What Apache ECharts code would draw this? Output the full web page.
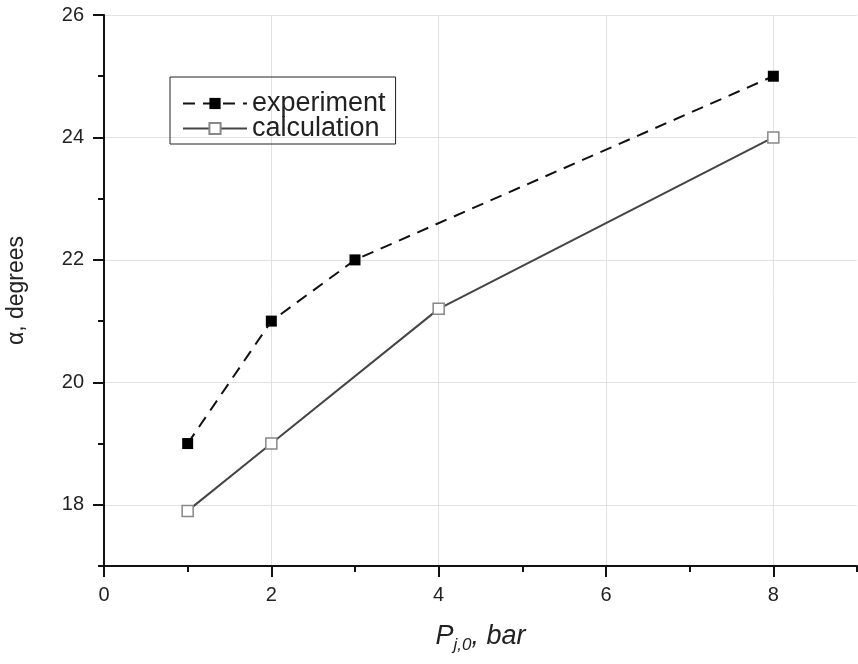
<!DOCTYPE html>
<html>
<head>
<meta charset="utf-8">
<script src="https://cdn.jsdelivr.net/npm/echarts@6/dist/echarts.min.js"></script>
<style>
  html, body { margin: 0; padding: 0; background: #fff; }
  #main { width: 858px; height: 664px; }
</style>
</head>
<body>
<div id="main"></div>
<script>
// data
var expX = [1, 2, 3, 8];
var expY = [19, 21, 22, 25];
var calcX = [1, 2, 4, 8];
var calcY = [17.9, 19, 21.2, 24];
var xMajor = [0, 2, 4, 6, 8];
var xMinor = [1, 3, 5, 7, 9];
var yMajor = [18, 20, 22, 24, 26];
var yMinor = [17, 19, 21, 23, 25];

function pairs(xs, ys) {
    let out = [];
    for (let i = 0; i < xs.length; i++) {
        out.push([xs[i], ys[i]]);
    }
    return out;
}

var font = 'Liberation Sans, Arial, sans-serif';
var axisLine = { show: true, lineStyle: { color: '#111', width: 2 } };

var myChart = echarts.init(document.getElementById('main'));
var option = {
    backgroundColor: '#fff',
    animation: false,
    grid: { left: 104, right: 1, top: 15, bottom: 98, containLabel: false, outerBoundsMode: 'none' },
    legend: {
        orient: 'vertical',
        left: 170,
        top: 77,
        padding: [13, 10, 2, 12],
        itemGap: -2,
        itemWidth: 64,
        itemHeight: 14,
        borderColor: '#222',
        borderWidth: 1,
        textStyle: { fontFamily: font, fontSize: 27, lineHeight: 25, color: '#222' },
        data: ['experiment', 'calculation']
    },
    xAxis: [{
        type: 'value', min: 0, max: 9,
        name: '{i|P}{sub|j,0}{i|, bar}',
        nameLocation: 'middle',
        nameGap: 53,
        nameTextStyle: {
            rich: {
                i: { fontFamily: font, fontSize: 27, fontStyle: 'italic', color: '#222' },
                sub: { fontFamily: font, fontSize: 17, fontStyle: 'italic', color: '#222', padding: [18, 0, 0, 0] }
            }
        },
        axisLine: axisLine,
        axisTick: { show: true, customValues: xMajor, length: 11, lineStyle: { color: '#111', width: 2 } },
        axisLabel: { customValues: xMajor, fontFamily: font, fontSize: 20, color: '#222', margin: 19 },
        splitLine: { show: true, lineStyle: { color: '#e2e2e2', width: 1 } }
    }, {
        type: 'value', min: 0, max: 9, position: 'bottom',
        axisLine: { show: false },
        axisTick: { show: true, customValues: xMinor, length: 6, lineStyle: { color: '#111', width: 2 } },
        axisLabel: { show: false },
        splitLine: { show: false }
    }],
    yAxis: [{
        type: 'value', min: 17, max: 26,
        name: 'α, degrees',
        nameLocation: 'middle',
        nameGap: 76,
        nameTextStyle: { fontFamily: font, fontSize: 23, color: '#222' },
        axisLine: axisLine,
        axisTick: { show: true, customValues: yMajor, length: 11, lineStyle: { color: '#111', width: 2 } },
        axisLabel: { customValues: yMajor, fontFamily: font, fontSize: 20, color: '#222', margin: 20 },
        splitLine: { show: true, lineStyle: { color: '#e2e2e2', width: 1 } }
    }, {
        type: 'value', min: 17, max: 26, position: 'left',
        axisLine: { show: false },
        axisTick: { show: true, customValues: yMinor, length: 6, lineStyle: { color: '#111', width: 2 } },
        axisLabel: { show: false },
        splitLine: { show: false }
    }],
    series: [{
        name: 'experiment',
        type: 'line',
        data: pairs(expX, expY),
        symbol: 'rect',
        symbolSize: 11,
        itemStyle: { color: '#000', borderColor: '#000', borderWidth: 0 },
        lineStyle: { color: '#111', width: 2, type: [12, 8] },
        z: 3
    }, {
        name: 'calculation',
        type: 'line',
        data: pairs(calcX, calcY),
        symbol: 'rect',
        symbolSize: 11,
        itemStyle: { color: '#fff', borderColor: '#888', borderWidth: 1.5 },
        lineStyle: { color: '#444', width: 2 },
        z: 3
    }]
};
myChart.setOption(option);
</script>
</body>
</html>
